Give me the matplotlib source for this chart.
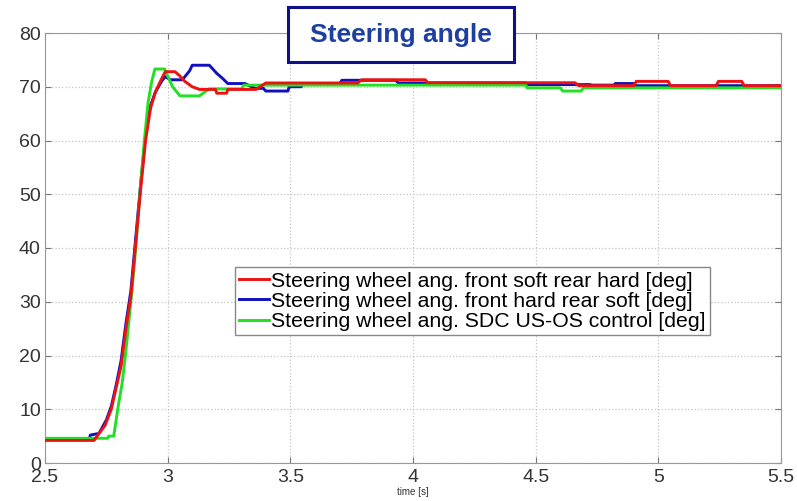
import matplotlib.pyplot as plt
from matplotlib.patches import Rectangle

plt.rcParams['font.family'] = ['Liberation Sans', 'DejaVu Sans']

# ---- steering wheel angle traces (time [s], angle [deg]) ----
t_soft_hard = [2.5, 2.70, 2.72, 2.745, 2.77, 2.79, 2.81, 2.83, 2.85, 2.87, 2.89,
               2.91, 2.93, 2.95, 2.97, 2.99, 3.03, 3.05, 3.07, 3.10, 3.13, 3.195,
               3.20, 3.24, 3.245, 3.36, 3.40, 3.775, 3.79, 4.05, 4.06, 4.66,
               4.675, 4.90, 4.91, 5.04, 5.05, 5.235, 5.245, 5.34, 5.35, 5.5]
a_soft_hard = [4.2, 4.2, 5.5, 7.0, 10.0, 14.0, 18.0, 25.0, 31.0, 41.0, 51.0,
               60.0, 66.0, 69.0, 71.0, 72.8, 72.8, 72.0, 71.0, 70.0, 69.5, 69.5,
               68.8, 68.8, 69.5, 69.5, 70.7, 70.7, 71.3, 71.3, 70.75, 70.75,
               70.2, 70.2, 71.0, 71.0, 70.2, 70.2, 71.0, 71.0, 70.2, 70.2]

t_hard_soft = [2.5, 2.68, 2.685, 2.72, 2.75, 2.77, 2.79, 2.81, 2.83, 2.85, 2.87,
               2.89, 2.91, 2.93, 2.95, 2.975, 2.99, 3.01, 3.06, 3.09, 3.10, 3.17,
               3.20, 3.225, 3.245, 3.315, 3.355, 3.39, 3.40, 3.49, 3.495, 3.545,
               3.55, 3.70, 3.71, 3.93, 3.94, 4.46, 4.465, 4.72, 4.73, 4.82,
               4.825, 4.90, 4.905, 5.5]
a_hard_soft = [4.5, 4.5, 5.2, 5.5, 8.0, 10.5, 14.5, 19.0, 26.0, 32.0, 42.0,
               52.0, 61.0, 66.5, 69.0, 71.0, 71.9, 71.3, 71.3, 73.0, 74.0, 74.0,
               72.5, 71.5, 70.6, 70.6, 69.7, 69.7, 69.2, 69.2, 70.0, 70.0,
               70.5, 70.5, 71.2, 71.2, 70.7, 70.7, 70.4, 70.4, 70.3, 70.3,
               70.6, 70.6, 70.2, 70.2]

t_sdc = [2.5, 2.755, 2.76, 2.78, 2.79, 2.80, 2.815, 2.83, 2.85, 2.87, 2.89,
         2.905, 2.92, 2.935, 2.948, 2.988, 3.0, 3.02, 3.05, 3.13, 3.15, 3.17,
         3.30, 3.31, 4.46, 4.465, 4.60, 4.61, 4.685, 4.695, 5.5]
a_sdc = [4.6, 4.6, 5.0, 5.0, 8.0, 11.0, 15.0, 21.0, 30.0, 40.0, 52.0,
         60.0, 67.0, 71.0, 73.3, 73.3, 72.0, 70.0, 68.3, 68.3, 69.0, 69.6,
         69.6, 70.3, 70.3, 69.8, 69.8, 69.2, 69.2, 69.8, 69.8]

labels = ["Steering wheel ang. front soft rear hard [deg]",
          "Steering wheel ang. front hard rear soft [deg]",
          "Steering wheel ang. SDC US-OS control [deg]"]

fig = plt.figure(figsize=(7.97, 5.01), dpi=100)
ax = fig.add_axes([45 / 797, 38 / 501, 736 / 797, 430 / 501])

ax.plot(t_soft_hard, a_soft_hard, color='#ee1111', lw=2.1, zorder=5, label=labels[0])
ax.plot(t_hard_soft, a_hard_soft, color='#1010c0', lw=2.1, zorder=3, label=labels[1])
ax.plot(t_sdc, a_sdc, color='#22e022', lw=2.1, zorder=4, label=labels[2])

ax.set_xlim(2.5, 5.5)
ax.set_ylim(0, 80)
ax.set_xticks([2.5, 3, 3.5, 4, 4.5, 5, 5.5])
ax.set_xticklabels(['2.5', '3', '3.5', '4', '4.5', '5', '5.5'])
ax.set_yticks(range(0, 81, 10))
ax.grid(True, linestyle=':', color='#c4c4c4', linewidth=0.9)
ax.tick_params(direction='in', top=True, right=True, length=4, colors='#777777',
               labelcolor='#333333', labelsize=14, pad=3)
ax.tick_params(axis='x', pad=4)
for s in ax.spines.values():
    s.set_color('#999999')
ax.set_xlabel('time [s]', fontsize=7, color='#333333', labelpad=1)

leg = ax.legend(loc='upper left', bbox_to_anchor=(0.258, 0.455), fontsize=15.3,
                frameon=True, fancybox=False, framealpha=1, edgecolor='#888888',
                handlelength=1.4, handletextpad=0.1, borderpad=0.2,
                labelspacing=0.06, borderaxespad=0)
leg.get_frame().set_linewidth(1.0)

# title box above the plot
fig.patches.append(Rectangle((288 / 797, 1 - 62 / 501), 226 / 797, 55 / 501,
                             transform=fig.transFigure, facecolor='white',
                             edgecolor='#10108a', linewidth=2.2, zorder=10))
fig.text(401 / 797, 1 - 35 / 501, 'Steering angle', ha='center', va='center',
         fontsize=19, fontweight='bold', color='#1c3fa0', zorder=11)

fig.savefig('out.png', dpi=100)
